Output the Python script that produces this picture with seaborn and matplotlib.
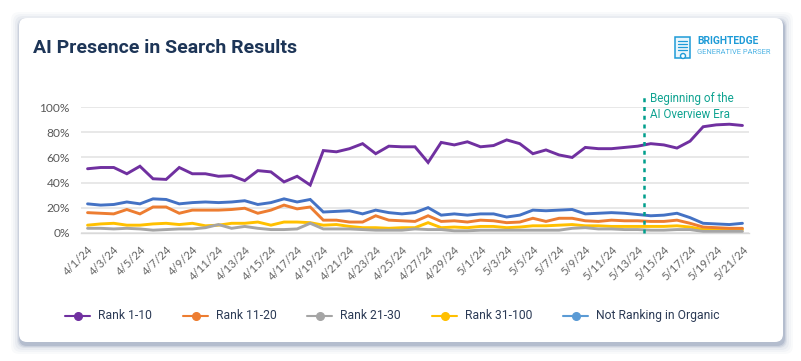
"""AI presence in search results, by organic rank."""

import matplotlib

matplotlib.use("Agg")
import matplotlib.pyplot as plt
import numpy as np
import pandas as pd
import seaborn as sns
from matplotlib.lines import Line2D
from matplotlib.patches import FancyBboxPatch, Rectangle

# Data
dates = [f"4/{d}/24" for d in range(1, 31)] + [f"5/{d}/24" for d in range(1, 22)]
rank_1_10 = [
    51, 52, 52, 47, 53, 43, 42.5, 52, 47, 47, 45, 45.5, 41.5, 49.5, 48.5, 40.5, 45,
    38, 65.5, 64.5, 67, 71, 63, 69, 68.5, 68.5, 56, 72, 70, 72.5, 68.5, 69.5, 74, 71,
    63, 66, 62, 60, 68, 67, 67, 68, 69, 71, 70, 67.5, 73, 84.5, 86, 86.5, 85.5,
]
rank_11_20 = [
    16, 15.5, 15, 18.5, 15, 20.5, 20.5, 15.5, 18, 18, 18, 18.5, 19.5, 15.5, 18, 22,
    19, 20.5, 10, 10, 8.5, 8.5, 13.5, 10, 9.5, 9, 13.5, 9, 9.5, 8.5, 10, 9.5, 8, 8.5,
    11.5, 9, 11.5, 11.5, 9.5, 9, 10, 9.5, 9.5, 9, 9, 10, 7.5, 4.5, 4, 3.5, 3.5,
]
rank_21_30 = [
    3.5, 3.5, 3, 3.5, 3, 2, 2.5, 3, 3, 4, 6.5, 3.5, 5, 3.5, 2.5, 2.5, 3, 7.5, 3, 3, 3,
    2.5, 2, 2, 2, 3, 2.5, 2.5, 1.5, 1.5, 2, 2, 2, 2, 2, 2, 2, 3.5, 4, 3, 3, 2.5, 2.5,
    2, 2, 2.5, 2.5, 1, 1, 1, 1,
]
rank_31_100 = [
    6, 7, 7.5, 6, 6, 7, 7.5, 6.5, 7.5, 5.5, 6, 7.5, 7.5, 8.5, 6, 8.5, 8.5, 8, 6, 6.5,
    5, 4, 4, 3.5, 4, 4, 8, 4, 4.5, 4, 5, 5, 4, 4.5, 5.5, 5.5, 6, 6.5, 5.5, 5.5, 5, 5,
    5, 5, 5, 5.5, 4.5, 2.5, 2.5, 2.5, 2.5,
]
not_ranking = [
    23, 22, 22.5, 24.5, 23, 27, 26.5, 23, 24, 24.5, 24, 24.5, 25.5, 22.5, 24, 27, 24.5,
    26.5, 16.5, 17, 17.5, 15, 18, 16, 15, 16, 20, 14, 15, 14, 15, 15, 12.5, 14, 18,
    17.5, 18, 18.5, 15, 15.5, 16, 15.5, 14.5, 13.5, 14, 15.5, 12, 7.5, 7, 6.5, 7.5,
]
series_names = [
    "Rank 1-10", "Rank 11-20", "Rank 21-30", "Rank 31-100", "Not Ranking in Organic",
]
palette = {
    "Rank 1-10": "#7030A0",
    "Rank 11-20": "#ED7D31",
    "Rank 21-30": "#A5A5A5",
    "Rank 31-100": "#FFC000",
    "Not Ranking in Organic": "#4472C4",
}
# the legend blue is lighter than the line blue in the original
legend_colors = {**palette, "Not Ranking in Organic": "#5B9BD5"}
event_position = 42.5

# Long table for seaborn
df = pd.DataFrame(
    dict(zip(series_names, [rank_1_10, rank_11_20, rank_21_30, rank_31_100, not_ranking]))
)
df["pos"] = np.arange(len(dates))
long_df = df.melt(id_vars="pos", var_name="series", value_name="value")

sns.set_theme(style="white")
plt.rcParams["font.family"] = ["Roboto", "DejaVu Sans"]

W, H = 801, 361
fig = plt.figure(figsize=(W / 100, H / 100), dpi=100, facecolor="white")


def card(x0, y0, x1, y1, **kw):
    # rounded panel given in pixels from the top left
    patch = FancyBboxPatch(
        (x0 + 8, H - y1 + 8), x1 - x0 - 16, y1 - y0 - 16,
        boxstyle="round,pad=8,rounding_size=8",
        transform=None, **kw,
    )
    fig.add_artist(patch)


# Card with soft shadow
for grow, alpha in zip([9, 7, 5, 3, 2, 1], [0.03, 0.04, 0.06, 0.09, 0.13, 0.2]):
    card(19 - grow + 1, 18 - grow + 3, 783 + grow + 1, 342 + grow + 3,
         facecolor="#5c6f96", edgecolor="none", alpha=alpha)
card(19, 18, 783, 342, facecolor="white", edgecolor="none")

ax = fig.add_axes([81 / W, 1 - 232.7 / H, 668 / W, 125.4 / H], zorder=5)
ax.patch.set_alpha(0)

sns.lineplot(
    data=long_df, x="pos", y="value", hue="series", hue_order=series_names[::-1],
    palette=palette, linewidth=2.1, legend=False, ax=ax,
)
for line in ax.lines:
    line.set_solid_joinstyle("miter")

ax.set_xlim(-0.5, 50.5)
ax.set_ylim(0, 100)
ax.set_xlabel("")
ax.set_ylabel("")
ax.set_yticks([0, 20, 40, 60, 80, 100], ["0%", "20%", "40%", "60%", "80%", "100%"])
ax.set_xticks(np.arange(0, 51, 2), dates[::2])
ax.set_xticks(np.arange(-0.5, 51, 2), minor=True)
ax.grid(axis="y", color="#E6E6E6", linewidth=1.3)
ax.set_axisbelow(True)
sns.despine(ax=ax, left=True)
ax.spines["bottom"].set_color("#D9D9D9")
ax.spines["bottom"].set_linewidth(1.0)
ax.tick_params(axis="y", length=0, pad=8, labelsize=8.6, labelcolor="#595959")
ax.tick_params(axis="x", which="major", length=0, pad=8, labelsize=8.2, labelcolor="#666666")
ax.tick_params(axis="x", which="minor", length=3, width=0.8, color="#D9D9D9")
for label in ax.get_xticklabels():
    label.set_rotation(45)
    label.set_ha("right")
    label.set_rotation_mode("anchor")
    label.set_fontfamily(["Lato", "DejaVu Sans"])
for label in ax.get_yticklabels():
    label.set_fontfamily(["Lato", "DejaVu Sans"])

# Event marker
ax.plot(
    [event_position, event_position], [0, 111], color="#009E8C", linewidth=1.8,
    linestyle=(0, (1.6, 1.9)), clip_on=False, zorder=5,
)
ax.text(
    event_position + 0.45, 112, "Beginning of the\nAI Overview Era", color="#0FA391",
    fontsize=8.4, va="top", ha="left", linespacing=1.3,
)

# Title
fig.text(33 / W, 1 - 48 / H, "AI Presence in Search Results", color="#1D3557",
         fontsize=14.0, fontweight="bold", va="center", ha="left")

# Logo
fig.add_artist(Rectangle((675, H - 58), 15, 21, transform=None, facecolor="#EAF6FC",
                         edgecolor="#1E9BD7", linewidth=1.1))
for y_px in [41, 44, 47, 50]:
    fig.add_artist(Line2D([678, 687], [H - y_px, H - y_px], transform=None,
                          color="#1E9BD7", linewidth=0.9))
fig.add_artist(plt.Circle((683, H - 56), 2.5, transform=None, facecolor="white",
                          edgecolor="#1E9BD7", linewidth=1.0))
fig.text(697 / W, 1 - 41 / H, "BRIGHTEDGE", color="#1E9BD7", fontsize=7.4,
         fontweight="bold", va="center", ha="left")
fig.text(697 / W, 1 - 52.5 / H, "GENERATIVE PARSER", color="#4DB3E4", fontsize=5.4,
         va="center", ha="left")

# Legend
legend_x = [65, 183, 307, 432, 563]
for name, x_px in zip(series_names, legend_x):
    color = legend_colors[name]
    fig.add_artist(Line2D([x_px, x_px + 25], [H - 315.5, H - 315.5], transform=None,
                          color=color, linewidth=1.5, marker="none"))
    fig.add_artist(Line2D([x_px + 12.5], [H - 315.5], transform=None, color=color,
                          marker="o", markersize=5.5, linestyle="none"))
    fig.text((x_px + 33) / W, 1 - 315.5 / H, name, color="#2B3A55", fontsize=8.75,
             va="center", ha="left")

fig.savefig("out.png", dpi=100, facecolor="white")
